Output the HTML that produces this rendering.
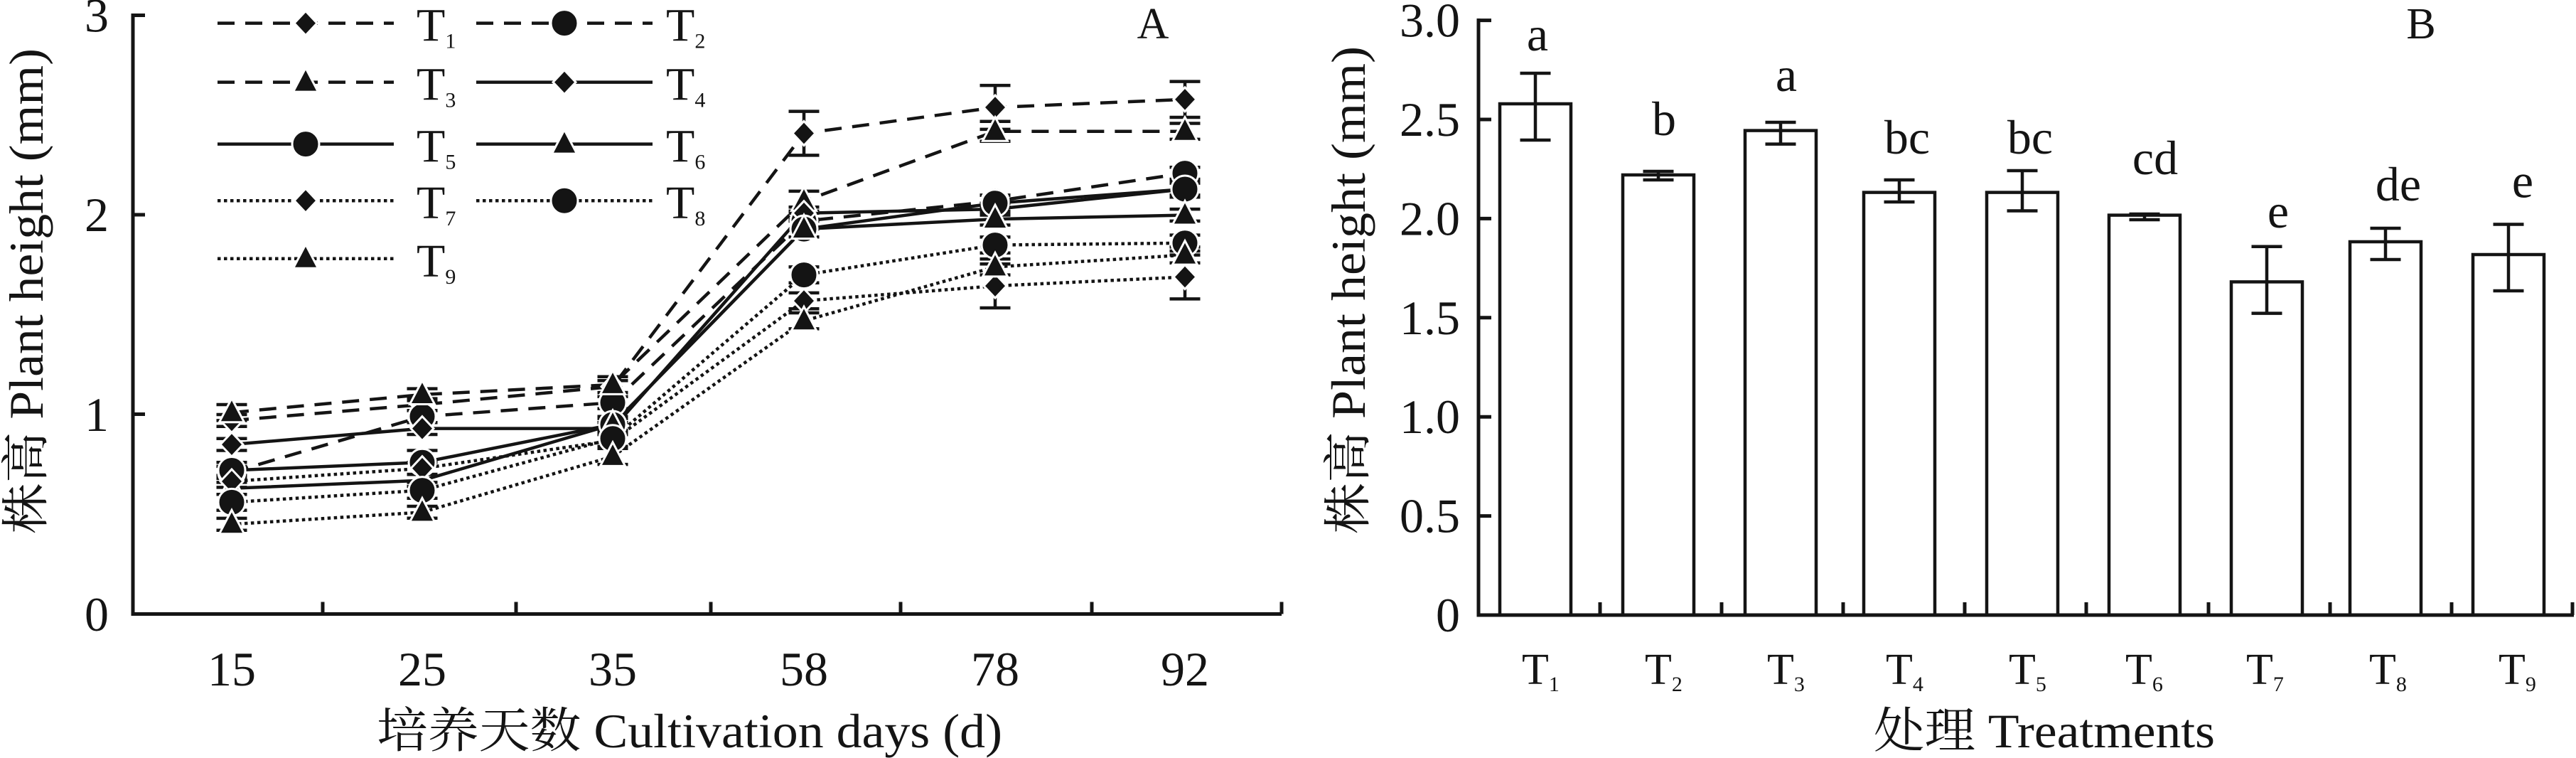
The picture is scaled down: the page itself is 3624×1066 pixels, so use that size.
<!DOCTYPE html>
<html><head><meta charset="utf-8"><style>
html,body{margin:0;padding:0;background:#fff;}
svg{display:block;font-family:"Liberation Serif","Noto Serif CJK SC",serif;}
text,tspan{font-family:"Liberation Serif","Noto Serif CJK SC",serif;fill:#141414;}
</style></head><body>
<svg width="3624" height="1066" viewBox="0 0 3624 1066" xmlns="http://www.w3.org/2000/svg" font-family="Liberation Serif, Noto Serif CJK SC, serif">
<defs>
<path id="d" d="M0,-17L16,0L0,17L-16,0Z" fill="#141414" stroke="#fff" stroke-width="3"/>
<circle id="c" r="19" fill="#141414" stroke="#fff" stroke-width="3"/>
<path id="t" d="M0,-20L17.5,13.5H-17.5Z" fill="#141414" stroke="#fff" stroke-width="3"/>
</defs>
<rect width="3624" height="1066" fill="#fff"/>

<!-- ===== Panel A ===== -->
<g stroke="#141414" stroke-width="5" fill="none">
<path d="M187,19V863.5H1803"/>
<path d="M187,21.5h17M187,302h17M187,582.5h17"/>
<path d="M454,863.5v-17M726,863.5v-17M1000,863.5v-17M1267,863.5v-17M1536,863.5v-17M1803,863.5v-17"/>
</g>
<g font-size="68" text-anchor="end" font-family="Liberation Serif, serif">
<text x="153" y="44.5">3</text>
<text x="153" y="325">2</text>
<text x="153" y="606">1</text>
<text x="153" y="887">0</text>
</g>
<g font-size="68" text-anchor="middle" font-family="Liberation Serif, serif">
<text x="326" y="964">15</text>
<text x="594" y="964">25</text>
<text x="862" y="964">35</text>
<text x="1131" y="964">58</text>
<text x="1400" y="964">78</text>
<text x="1667" y="964">92</text>
</g>
<text x="530" y="1051" font-size="68" textLength="880" lengthAdjust="spacingAndGlyphs" font-family="Liberation Serif, Noto Serif CJK SC, serif">培养天数 Cultivation days (d)</text>
<text transform="translate(60,409.5) rotate(-90)" x="0" y="0" font-size="68" text-anchor="middle" textLength="683" lengthAdjust="spacingAndGlyphs" font-family="Liberation Serif, Noto Serif CJK SC, serif">株高 Plant height (mm)</text>
<text x="1622" y="54" font-size="62" text-anchor="middle" font-family="Liberation Serif, serif">A</text>

<!-- legend -->
<g stroke="#141414" stroke-width="4.5" fill="none">
<path d="M306,32.6H554" stroke-dasharray="24 15"/>
<path d="M670,32.6H918" stroke-dasharray="24 15"/>
<path d="M306,115.6H554" stroke-dasharray="24 15"/>
<path d="M670,115.6H918"/>
<path d="M306,202.6H554"/>
<path d="M670,202.6H918"/>
<path d="M306,282.2H554" stroke-dasharray="4.5 4.5"/>
<path d="M670,282.2H918" stroke-dasharray="4.5 4.5"/>
<path d="M306,363.8H554" stroke-dasharray="4.5 4.5"/>
</g>
<use href="#d" x="430" y="32.6"/>
<use href="#c" x="794" y="32.6"/>
<use href="#t" x="430" y="115.6"/>
<use href="#d" x="794" y="115.6"/>
<use href="#c" x="430" y="202.6"/>
<use href="#t" x="794" y="202.6"/>
<use href="#d" x="430" y="282.2"/>
<use href="#c" x="794" y="282.2"/>
<use href="#t" x="430" y="363.8"/>
<g font-size="66" font-family="Liberation Serif, serif">
<text x="586" y="57.6">T<tspan font-size="30" dy="10">1</tspan></text>
<text x="937" y="57.6">T<tspan font-size="30" dy="10">2</tspan></text>
<text x="586" y="140.6">T<tspan font-size="30" dy="10">3</tspan></text>
<text x="937" y="140.6">T<tspan font-size="30" dy="10">4</tspan></text>
<text x="586" y="227.6">T<tspan font-size="30" dy="10">5</tspan></text>
<text x="937" y="227.6">T<tspan font-size="30" dy="10">6</tspan></text>
<text x="586" y="307.2">T<tspan font-size="30" dy="10">7</tspan></text>
<text x="937" y="307.2">T<tspan font-size="30" dy="10">8</tspan></text>
<text x="586" y="388.8">T<tspan font-size="30" dy="10">9</tspan></text>
</g>

<!-- series lines -->
<g stroke="#141414" stroke-width="4.5" fill="none" stroke-linejoin="round">
<polyline stroke-dasharray="24 15" points="326,591.4 594,569 862,543.7 1131,187.5 1400,151 1667,139.8"/>
<polyline stroke-dasharray="24 15" points="326,664.3 594,585.8 862,566.2 1131,310.9 1400,282.9 1667,243.6"/>
<polyline stroke-dasharray="24 15" points="326,580.2 594,555 862,540.9 1131,282.9 1400,184.7 1667,184.7"/>
<polyline points="326,625.1 594,602.6 862,602.6 1131,299.7 1400,294.1 1667,266"/>
<polyline points="326,661.5 594,650.3 862,597 1131,322.1 1400,285.7 1667,266"/>
<polyline points="326,686.8 594,675.6 862,597 1131,322.1 1400,308.1 1667,302.5"/>
<polyline stroke-dasharray="4.5 4.5" points="326,677 594,658.7 862,619.5 1131,423.1 1400,402.1 1667,389.5"/>
<polyline stroke-dasharray="4.5 4.5" points="326,706.4 594,689.6 862,616.7 1131,386.6 1400,344.6 1667,341.8"/>
<polyline stroke-dasharray="4.5 4.5" points="326,737.3 594,720.4 862,641.9 1131,451.2 1400,375.4 1667,358.6"/>
</g>

<!-- error bars -->
<g stroke="#141414" stroke-width="4.5" fill="none">
<path d="M304.5,583h43M326,583V599.8M304.5,599.8h43 M572.5,560.6h43M594,560.6V577.4M572.5,577.4h43 M840.5,535.3h43M862,535.3V552.1M840.5,552.1h43 M1109.5,156.6h43M1131,156.6V218.4M1109.5,218.4h43 M1378.5,120.1h43M1400,120.1V181.9M1378.5,181.9h43 M1645.5,114.6h43M1667,114.6V165M1645.5,165h43"/>
<path d="M304.5,655.9h43M326,655.9V672.7M304.5,672.7h43 M572.5,577.4h43M594,577.4V594.2M572.5,594.2h43 M840.5,557.8h43M862,557.8V574.6M840.5,574.6h43 M1109.5,299.7h43M1131,299.7V322.1M1109.5,322.1h43 M1378.5,274.5h43M1400,274.5V291.3M1378.5,291.3h43 M1645.5,235.2h43M1667,235.2V252M1645.5,252h43"/>
<path d="M304.5,569h43M326,569V591.4M304.5,591.4h43 M572.5,546.6h43M594,546.6V563.4M572.5,563.4h43 M840.5,529.7h43M862,529.7V552.1M840.5,552.1h43 M1109.5,268.9h43M1131,268.9V296.9M1109.5,296.9h43 M1378.5,170.7h43M1400,170.7V198.7M1378.5,198.7h43 M1645.5,173.5h43M1667,173.5V195.9M1645.5,195.9h43"/>
<path d="M304.5,616.7h43M326,616.7V633.5M304.5,633.5h43 M572.5,594.2h43M594,594.2V611M572.5,611h43 M840.5,594.2h43M862,594.2V611M840.5,611h43 M1109.5,291.3h43M1131,291.3V308.1M1109.5,308.1h43 M1378.5,285.7h43M1400,285.7V302.5M1378.5,302.5h43 M1645.5,257.6h43M1667,257.6V274.4M1645.5,274.4h43"/>
<path d="M304.5,650.3h43M326,650.3V672.7M304.5,672.7h43 M572.5,633.5h43M594,633.5V667.1M572.5,667.1h43 M840.5,585.8h43M862,585.8V608.2M840.5,608.2h43 M1109.5,310.9h43M1131,310.9V333.3M1109.5,333.3h43 M1378.5,274.5h43M1400,274.5V296.9M1378.5,296.9h43 M1645.5,254.8h43M1667,254.8V277.2M1645.5,277.2h43"/>
<path d="M304.5,678.4h43M326,678.4V695.2M304.5,695.2h43 M572.5,667.2h43M594,667.2V684M572.5,684h43 M840.5,588.6h43M862,588.6V605.4M840.5,605.4h43 M1109.5,310.9h43M1131,310.9V333.3M1109.5,333.3h43 M1378.5,299.7h43M1400,299.7V316.5M1378.5,316.5h43 M1645.5,294.1h43M1667,294.1V310.9M1645.5,310.9h43"/>
<path d="M304.5,668.6h43M326,668.6V685.4M304.5,685.4h43 M572.5,650.3h43M594,650.3V667.1M572.5,667.1h43 M840.5,611.1h43M862,611.1V627.9M840.5,627.9h43 M1109.5,411.9h43M1131,411.9V434.3M1109.5,434.3h43 M1378.5,371.2h43M1400,371.2V433M1378.5,433h43 M1645.5,358.6h43M1667,358.6V420.4M1645.5,420.4h43"/>
<path d="M304.5,695.2h43M326,695.2V717.6M304.5,717.6h43 M572.5,678.4h43M594,678.4V700.8M572.5,700.8h43 M840.5,605.5h43M862,605.5V627.9M840.5,627.9h43 M1109.5,375.4h43M1131,375.4V397.8M1109.5,397.8h43 M1378.5,333.4h43M1400,333.4V355.8M1378.5,355.8h43 M1645.5,330.6h43M1667,330.6V353M1645.5,353h43"/>
<path d="M304.5,728.9h43M326,728.9V745.7M304.5,745.7h43 M572.5,712h43M594,712V728.8M572.5,728.8h43 M840.5,630.7h43M862,630.7V653.1M840.5,653.1h43 M1109.5,440h43M1131,440V462.4M1109.5,462.4h43 M1378.5,364.2h43M1400,364.2V386.6M1378.5,386.6h43 M1645.5,347.4h43M1667,347.4V369.8M1645.5,369.8h43"/>
</g>

<!-- markers -->
<g>
<use href="#d" x="326" y="591.4"/><use href="#d" x="594" y="569"/><use href="#d" x="862" y="543.7"/><use href="#d" x="1131" y="187.5"/><use href="#d" x="1400" y="151"/><use href="#d" x="1667" y="139.8"/>
<use href="#c" x="326" y="664.3"/><use href="#c" x="594" y="585.8"/><use href="#c" x="862" y="566.2"/><use href="#c" x="1131" y="310.9"/><use href="#c" x="1400" y="282.9"/><use href="#c" x="1667" y="243.6"/>
<use href="#t" x="326" y="580.2"/><use href="#t" x="594" y="555"/><use href="#t" x="862" y="540.9"/><use href="#t" x="1131" y="282.9"/><use href="#t" x="1400" y="184.7"/><use href="#t" x="1667" y="184.7"/>
<use href="#d" x="326" y="625.1"/><use href="#d" x="594" y="602.6"/><use href="#d" x="862" y="602.6"/><use href="#d" x="1131" y="299.7"/><use href="#d" x="1400" y="294.1"/><use href="#d" x="1667" y="266"/>
<use href="#c" x="326" y="661.5"/><use href="#c" x="594" y="650.3"/><use href="#c" x="862" y="597"/><use href="#c" x="1131" y="322.1"/><use href="#c" x="1400" y="285.7"/><use href="#c" x="1667" y="266"/>
<use href="#t" x="326" y="686.8"/><use href="#t" x="594" y="675.6"/><use href="#t" x="862" y="597"/><use href="#t" x="1131" y="322.1"/><use href="#t" x="1400" y="308.1"/><use href="#t" x="1667" y="302.5"/>
<use href="#d" x="326" y="677"/><use href="#d" x="594" y="658.7"/><use href="#d" x="862" y="619.5"/><use href="#d" x="1131" y="423.1"/><use href="#d" x="1400" y="402.1"/><use href="#d" x="1667" y="389.5"/>
<use href="#c" x="326" y="706.4"/><use href="#c" x="594" y="689.6"/><use href="#c" x="862" y="616.7"/><use href="#c" x="1131" y="386.6"/><use href="#c" x="1400" y="344.6"/><use href="#c" x="1667" y="341.8"/>
<use href="#t" x="326" y="737.3"/><use href="#t" x="594" y="720.4"/><use href="#t" x="862" y="641.9"/><use href="#t" x="1131" y="451.2"/><use href="#t" x="1400" y="375.4"/><use href="#t" x="1667" y="358.6"/>
</g>

<!-- ===== Panel B ===== -->
<g stroke="#141414" stroke-width="4.5" fill="#fff">
<rect x="2110" y="146" width="100" height="719"/>
<rect x="2283" y="246" width="100" height="619"/>
<rect x="2455" y="183.6" width="100" height="681.4"/>
<rect x="2622" y="270.6" width="100" height="594.4"/>
<rect x="2795" y="270.6" width="100" height="594.4"/>
<rect x="2967" y="302.6" width="100" height="562.4"/>
<rect x="3139" y="396.4" width="100" height="468.6"/>
<rect x="3306" y="340" width="100" height="525"/>
<rect x="3479" y="358" width="100" height="507"/>
</g>
<g stroke="#141414" stroke-width="4.5" fill="none">
<path d="M2138.5,103h43M2160,103V197M2138.5,197h43"/>
<path d="M2311.5,241h43M2333,241V253M2311.5,253h43"/>
<path d="M2483.5,172h43M2505,172V202.6M2483.5,202.6h43"/>
<path d="M2650.5,253h43M2672,253V284M2650.5,284h43"/>
<path d="M2823.5,240h43M2845,240V296.5M2823.5,296.5h43"/>
<path d="M2995.5,301h43M3017,301V309M2995.5,309h43"/>
<path d="M3167.5,346.8h43M3189,346.8V440.6M3167.5,440.6h43"/>
<path d="M3334.5,321h43M3356,321V365M3334.5,365h43"/>
<path d="M3507.5,315.5h43M3529,315.5V409M3507.5,409h43"/>
</g>
<g stroke="#141414" stroke-width="5" fill="none">
<path d="M2080,26V865H3621"/>
<path d="M2080,28.6h18M2080,168h18M2080,307.4h18M2080,446.8h18M2080,586.2h18M2080,725.6h18"/>
<path d="M2251,865v-18M2422,865v-18M2593,865v-18M2764,865v-18M2935,865v-18M3107,865v-18M3278,865v-18M3449,865v-18M3619,865v-18"/>
</g>
<g font-size="68" text-anchor="end" font-family="Liberation Serif, serif">
<text x="2054" y="51.6">3.0</text>
<text x="2054" y="191">2.5</text>
<text x="2054" y="330.4">2.0</text>
<text x="2054" y="469.8">1.5</text>
<text x="2054" y="609.2">1.0</text>
<text x="2054" y="748.6">0.5</text>
<text x="2054" y="888">0</text>
</g>
<g font-size="62" font-family="Liberation Serif, serif">
<text x="2141" y="962">T<tspan font-size="30" dy="10">1</tspan></text>
<text x="2314" y="962">T<tspan font-size="30" dy="10">2</tspan></text>
<text x="2486" y="962">T<tspan font-size="30" dy="10">3</tspan></text>
<text x="2653" y="962">T<tspan font-size="30" dy="10">4</tspan></text>
<text x="2826" y="962">T<tspan font-size="30" dy="10">5</tspan></text>
<text x="2990" y="962">T<tspan font-size="30" dy="10">6</tspan></text>
<text x="3160" y="962">T<tspan font-size="30" dy="10">7</tspan></text>
<text x="3333" y="962">T<tspan font-size="30" dy="10">8</tspan></text>
<text x="3515" y="962">T<tspan font-size="30" dy="10">9</tspan></text>
</g>
<g font-size="68" text-anchor="middle" font-family="Liberation Serif, serif">
<text x="2163" y="71">a</text>
<text x="2341" y="190">b</text>
<text x="2513" y="128">a</text>
<text x="2683" y="216">bc</text>
<text x="2856" y="216">bc</text>
<text x="3032" y="245">cd</text>
<text x="3205" y="320">e</text>
<text x="3374" y="282">de</text>
<text x="3549" y="277.5">e</text>
</g>
<text x="3406" y="54" font-size="62" text-anchor="middle" font-family="Liberation Serif, serif">B</text>
<text x="2636" y="1051" font-size="68" textLength="480" lengthAdjust="spacingAndGlyphs" font-family="Liberation Serif, Noto Serif CJK SC, serif">处理 Treatments</text>
<text transform="translate(1920,408) rotate(-90)" x="0" y="0" font-size="68" text-anchor="middle" textLength="686" lengthAdjust="spacingAndGlyphs" font-family="Liberation Serif, Noto Serif CJK SC, serif">株高 Plant height (mm)</text>
</svg>
</body></html>
